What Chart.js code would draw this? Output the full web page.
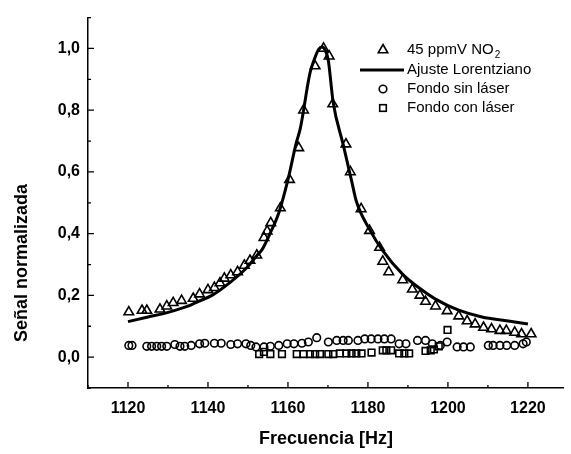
<!DOCTYPE html>
<html>
<head>
<meta charset="utf-8">
<script src="https://cdn.jsdelivr.net/npm/chart.js@4"></script>
<style>
  body { margin: 0; background: #fff; }
  #wrap { width: 571px; height: 454px; }
</style>
</head>
<body>
<div id="wrap"><canvas id="myChart" width="571" height="454"></canvas></div>
<script>
// 45 ppmV NO2 (triangles)
const no2Freq = [1120.2, 1123.5, 1124.7, 1128, 1129.7, 1131.3, 1133.4, 1136.3, 1137.9, 1140, 1141.6, 1143,
  1144.1, 1145.7, 1147.4, 1149.1, 1150.5, 1152.2, 1154, 1154.8, 1155.7, 1158.1, 1160.4, 1162.7, 1163.9,
  1166.8, 1168.9, 1170.3, 1171.2, 1174.5, 1175.6, 1178.3, 1180.4, 1182.9, 1183.7, 1185.2, 1188.7, 1191.1,
  1193, 1194.4, 1196.9, 1199.8, 1202.7, 1204.8, 1206.8, 1208.9, 1210.9, 1213, 1214.6, 1216.7, 1218.4, 1220.8];
const no2Signal = [0.146, 0.151, 0.151, 0.155, 0.165, 0.176, 0.183, 0.19, 0.204, 0.218, 0.225, 0.24,
  0.255, 0.266, 0.276, 0.297, 0.313, 0.33, 0.387, 0.408, 0.435, 0.483, 0.575, 0.678, 0.80,
  0.943, 1.0, 0.975, 0.82, 0.69, 0.60, 0.48, 0.41, 0.355, 0.31, 0.276, 0.25, 0.22,
  0.20, 0.18, 0.165, 0.15, 0.133, 0.117, 0.107, 0.096, 0.091, 0.086, 0.086, 0.08, 0.075, 0.075];

// Lorentzian fit (line)
const fitFreq = [1120, 1125, 1130, 1135, 1137.5, 1141, 1145.7, 1149.5, 1152.3, 1153.6, 1155.5, 1157.7,
  1160, 1162, 1163.1, 1165.5, 1166.6, 1167.6, 1168.5, 1169.3, 1170.1, 1171.3, 1173.8, 1175.9, 1177.1,
  1180.4, 1183.7, 1188.7, 1192, 1196.9, 1202.7, 1208.5, 1215.1, 1220];
const fitSignal = [0.115, 0.13, 0.145, 0.165, 0.18, 0.20, 0.244, 0.287, 0.33, 0.35, 0.40, 0.467,
  0.575, 0.69, 0.742, 0.92, 0.965, 0.996, 1.005, 0.995, 0.96, 0.826, 0.689, 0.572, 0.505,
  0.414, 0.345, 0.268, 0.232, 0.188, 0.152, 0.13, 0.117, 0.107];

// Fondo sin láser (circles)
const bgOffFreq = [1120.2, 1121, 1124.7, 1125.9, 1127.2, 1128.4, 1129.7, 1131.7, 1133, 1134.2, 1135.8, 1137.9,
  1139.2, 1141.6, 1143.3, 1145.7, 1147.4, 1149.5, 1150.7, 1152, 1154, 1155.6, 1157.7, 1159.8, 1161.5,
  1163.5, 1165.1, 1167.2, 1170.1, 1172.2, 1173.8, 1175.1, 1177.5, 1179.2, 1180.8, 1182.5, 1184.1, 1185.8,
  1187.8, 1189.5, 1192.4, 1194.4, 1196.1, 1198.1, 1199.8, 1202.3, 1203.9, 1205.6, 1210.1, 1211.3, 1213,
  1214.7, 1216.7, 1218.8, 1219.6];
const bgOffSignal = [0.038, 0.038, 0.035, 0.035, 0.035, 0.035, 0.035, 0.041, 0.035, 0.035, 0.038, 0.043,
  0.045, 0.045, 0.045, 0.041, 0.043, 0.043, 0.038, 0.033, 0.033, 0.035, 0.038, 0.043, 0.043,
  0.045, 0.049, 0.063, 0.049, 0.054, 0.054, 0.054, 0.054, 0.059, 0.059, 0.059, 0.059, 0.059,
  0.043, 0.043, 0.054, 0.054, 0.043, 0.038, 0.049, 0.033, 0.033, 0.033, 0.038, 0.038, 0.038,
  0.038, 0.038, 0.043, 0.049];

// Fondo con láser (squares)
const bgOnFreq = [1152.8, 1154, 1155.6, 1158.5, 1162.2, 1163.9, 1165.5, 1166.8, 1168, 1170.1, 1171.3, 1173,
  1174.6, 1175.9, 1177.1, 1178.4, 1180.9, 1183.7, 1184.6, 1185.8, 1187.8, 1189.1, 1190.3, 1194.4, 1195.7,
  1196.5, 1197.7, 1199.9];
const bgOnSignal = [0.010, 0.017, 0.010, 0.010, 0.010, 0.010, 0.010, 0.010, 0.010, 0.010, 0.010, 0.012,
  0.012, 0.012, 0.012, 0.012, 0.015, 0.022, 0.022, 0.022, 0.012, 0.012, 0.012, 0.02, 0.022,
  0.025, 0.035, 0.088];

const xTicks = [1120, 1140, 1160, 1180, 1200, 1220];
const xMinor = [1110, 1130, 1150, 1170, 1190, 1210];
const yTicks = [0.0, 0.2, 0.4, 0.6, 0.8, 1.0];
const yMinor = [-0.1, 0.1, 0.3, 0.5, 0.7, 0.9, 1.1];

const legendLabels = ['45 ppmV NO', 'Ajuste Lorentziano', 'Fondo sin láser', 'Fondo con láser'];

const FONT = '"Liberation Sans", Arial, sans-serif';

function pairs(xs, ys) {
  return xs.map((x, i) => ({ x: x, y: ys[i] }));
}

// inward tick marks, rotated y title and the legend box
const decor = {
  id: 'decor',
  afterDraw(chart) {
    const { ctx, chartArea: a, scales: { x, y } } = chart;
    ctx.save();
    ctx.strokeStyle = '#000';
    ctx.lineWidth = 1.3;
    ctx.beginPath();
    xTicks.forEach(v => { const p = x.getPixelForValue(v); ctx.moveTo(p, a.bottom); ctx.lineTo(p, a.bottom - 6); });
    xMinor.forEach(v => { const p = x.getPixelForValue(v); ctx.moveTo(p, a.bottom); ctx.lineTo(p, a.bottom - 3); });
    yTicks.forEach(v => { const p = y.getPixelForValue(v); ctx.moveTo(a.left, p); ctx.lineTo(a.left + 6, p); });
    yMinor.forEach(v => { const p = y.getPixelForValue(v); ctx.moveTo(a.left, p); ctx.lineTo(a.left + 3, p); });
    ctx.stroke();

    // y axis title
    ctx.save();
    ctx.translate(22, 263);
    ctx.rotate(-Math.PI / 2);
    ctx.fillStyle = '#000';
    ctx.font = 'bold 18px ' + FONT;
    ctx.textAlign = 'center';
    ctx.textBaseline = 'middle';
    ctx.fillText('Señal normalizada', 0, 0);
    ctx.restore();

    // legend
    const sx = 383, tx = 407;
    const rows = [50, 70, 89, 108];
    ctx.lineWidth = 1.6;
    ctx.fillStyle = '#000';
    ctx.font = '15px ' + FONT;
    ctx.textBaseline = 'middle';
    ctx.textAlign = 'left';

    // triangle
    let r = 5.5, cy = rows[0];
    ctx.beginPath();
    ctx.moveTo(sx, cy - r);
    ctx.lineTo(sx + r * 0.866, cy + r * 0.5);
    ctx.lineTo(sx - r * 0.866, cy + r * 0.5);
    ctx.closePath();
    ctx.stroke();
    ctx.fillText(legendLabels[0], tx, cy);
    const w = ctx.measureText(legendLabels[0]).width;
    ctx.font = '10px ' + FONT;
    ctx.fillText('2', tx + w + 1, cy + 5);
    ctx.font = '15px ' + FONT;

    // line
    ctx.lineWidth = 3;
    ctx.beginPath();
    ctx.moveTo(360, rows[1]);
    ctx.lineTo(404, rows[1]);
    ctx.stroke();
    ctx.fillText(legendLabels[1], tx, rows[1]);

    // circle
    ctx.lineWidth = 1.6;
    ctx.beginPath();
    ctx.arc(sx, rows[2], 3.8, 0, Math.PI * 2);
    ctx.stroke();
    ctx.fillText(legendLabels[2], tx, rows[2]);

    // square
    ctx.strokeRect(sx - 3.3, rows[3] - 3.3, 6.6, 6.6);
    ctx.fillText(legendLabels[3], tx, rows[3]);

    ctx.restore();
  }
};

const ctx = document.getElementById('myChart').getContext('2d');

const myChart = new Chart(ctx, {
  type: 'scatter',
  data: {
    datasets: [
      {
        label: 'Ajuste Lorentziano',
        data: pairs(fitFreq, fitSignal),
        showLine: true,
        borderColor: '#000',
        borderWidth: 3,
        pointRadius: 0,
        cubicInterpolationMode: 'monotone',
        order: 0
      },
      {
        label: '45 ppmV NO2',
        data: pairs(no2Freq, no2Signal),
        pointStyle: 'triangle',
        pointRadius: 5.5,
        borderColor: '#000',
        backgroundColor: 'rgba(0,0,0,0)',
        borderWidth: 1.6,
        order: 1
      },
      {
        label: 'Fondo sin láser',
        data: pairs(bgOffFreq, bgOffSignal),
        pointStyle: 'circle',
        pointRadius: 3.8,
        borderColor: '#000',
        backgroundColor: 'rgba(0,0,0,0)',
        borderWidth: 1.6,
        order: 1
      },
      {
        label: 'Fondo con láser',
        data: pairs(bgOnFreq, bgOnSignal),
        pointStyle: 'rect',
        pointRadius: 4.7,
        borderColor: '#000',
        backgroundColor: 'rgba(0,0,0,0)',
        borderWidth: 1.6,
        order: 1
      }
    ]
  },
  options: {
    responsive: false,
    animation: false,
    devicePixelRatio: 1,
    layout: { padding: { top: 10, right: 1, left: 0, bottom: 0 } },
    plugins: {
      legend: { display: false },
      tooltip: { enabled: false }
    },
    scales: {
      x: {
        type: 'linear',
        min: 1110,
        max: 1229,
        afterBuildTicks: s => { s.ticks = xTicks.map(v => ({ value: v })); },
        afterFit: s => { s.height = 66; },
        grid: { display: false, drawTicks: false },
        border: { display: true, color: '#000', width: 1.5 },
        ticks: {
          color: '#000',
          padding: 11,
          maxRotation: 0,
          font: { family: FONT, size: 16, weight: 'bold' },
          callback: v => String(v)
        },
        title: {
          display: true,
          text: 'Frecuencia [Hz]',
          color: '#000',
          font: { family: FONT, size: 18, weight: 'bold' },
          padding: { top: 0, bottom: 4 }
        }
      },
      y: {
        type: 'linear',
        min: -0.1,
        max: 1.1,
        afterBuildTicks: s => { s.ticks = yTicks.map(v => ({ value: v })); },
        afterFit: s => { s.width = 88; },
        grid: { display: false, drawTicks: false },
        border: { display: true, color: '#000', width: 1.5 },
        ticks: {
          color: '#000',
          padding: 8,
          font: { family: FONT, size: 16, weight: 'bold' },
          callback: v => v.toFixed(1).replace('.', ',')
        }
      }
    }
  },
  plugins: [decor]
});
</script>
</body>
</html>
